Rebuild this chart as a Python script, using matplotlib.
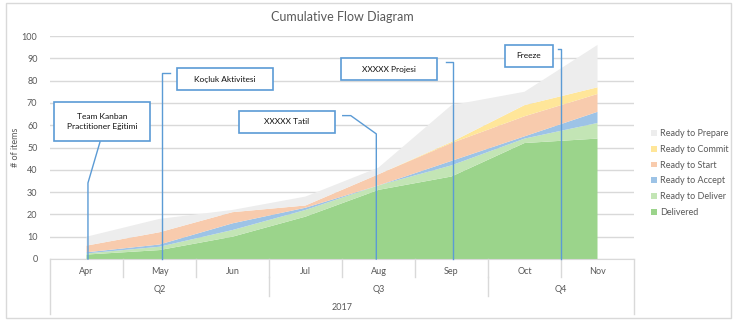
import numpy as np
import matplotlib.pyplot as plt
from matplotlib.patches import Rectangle, Patch

plt.rcParams['font.family'] = ['Lato', 'DejaVu Sans']

months = ["Apr", "May", "Jun", "Jul", "Aug", "Sep", "Oct", "Nov"]
quarters = ["Q2", "Q3", "Q4"]
quarter_spans = [(0, 3), (3, 6), (6, 8)]
year = "2017"

# items per state at each month end (stacked bottom to top)
delivered = [2, 4, 10, 19, 31, 37, 52, 54]
ready_to_deliver = [0.5, 1.5, 3, 3, 2, 5, 2, 7]
ready_to_accept = [0.5, 1, 3, 1, 0, 2, 1, 5]
ready_to_start = [3, 5.5, 5, 1, 5, 8, 9, 8]
ready_to_commit = [0, 0, 0, 0, 0, 0.5, 5, 3]
ready_to_prepare = [4, 6, 1, 4, 3, 16.5, 6, 19]

states = ["Delivered", "Ready to Deliver", "Ready to Accept",
          "Ready to Start", "Ready to Commit", "Ready to Prepare"]
colors = ["#9bd48b", "#c3e5b5", "#9dc3e6", "#f8cbad", "#ffe699", "#ededed"]

# callouts: text, box (x0, x1, y0, y1) and leader path in data units
events = [
    ("Team Kanban\nPractitioner Eğitimi", (0.055, 1.37, 52.9, 70.4),
     [(0.685, 52.5), (0.52, 34.1), (0.52, 0)]),
    ("Koçluk Aktivitesi", (1.74, 3.05, 75.8, 85.6),
     [(1.64, 83.4), (1.53, 83.4), (1.53, 0)]),
    ("XXXXX Tatil", (2.59, 3.90, 56.5, 66.4),
     [(4.01, 64.3), (4.12, 64.3), (4.47, 56.1), (4.47, 0)]),
    ("XXXXX Projesi", (3.99, 5.30, 80.3, 90.1),
     [(5.42, 88.3), (5.52, 88.3), (5.52, 0)]),
    ("Freeze", (6.23, 6.89, 86.1, 96.0),
     [(6.96, 94.2), (7.0, 94.2), (7.0, 0)]),
]

grey = "#595959"
line_grey = "#d9d9d9"
blue = "#5b9bd5"

fig = plt.figure(figsize=(7.34, 3.22), dpi=100)
ax = fig.add_axes([50 / 734, 1 - 259 / 322, 584 / 734, 223 / 322])

x = np.arange(len(months)) + 0.5
ax.stackplot(x, delivered, ready_to_deliver, ready_to_accept, ready_to_start,
             ready_to_commit, ready_to_prepare, colors=colors, lw=0, zorder=2)

ax.set_xlim(0, len(months))
ax.set_ylim(0, 100)
ax.set_yticks(range(0, 101, 10))
ax.set_xticks([])
ax.tick_params(axis='y', length=0, labelsize=6.5, labelcolor=grey, pad=9)
ax.grid(axis='y', color=line_grey, lw=1, zorder=0)
for s in ["top", "right", "left"]:
    ax.spines[s].set_visible(False)
ax.spines["bottom"].set_color(line_grey)
ax.set_ylabel("# of items", fontsize=6.5, color=grey)
ax.yaxis.set_label_coords(-30 / 584, 0.5)
ax.set_title("Cumulative Flow Diagram", fontsize=9, color=grey, pad=11)

# multi-level category axis
tr = ax.get_xaxis_transform()
def fy(py):
    return (259 - py) / 223

for i, m in enumerate(months):
    ax.text(i + 0.5, fy(271), m, transform=tr, ha='center', va='center',
            fontsize=6.5, color=grey)
for i in range(1, len(months)):
    ax.plot([i, i], [0, fy(277)], transform=tr, color=line_grey, lw=1, clip_on=False)
for q, (a, b) in zip(quarters, quarter_spans):
    ax.text((a + b) / 2, fy(289), q, transform=tr, ha='center', va='center',
            fontsize=6.5, color=grey)
for a, b in quarter_spans[1:]:
    ax.plot([a, a], [fy(277), fy(296)], transform=tr, color=line_grey, lw=1, clip_on=False)
ax.text(len(months) / 2, fy(307), year, transform=tr, ha='center', va='center',
        fontsize=6.5, color=grey)
for edge in (0, len(months)):
    ax.plot([edge, edge], [0, fy(314)], transform=tr, color=line_grey, lw=1, clip_on=False)

# event callouts
for label, (x0, x1, y0, y1), path in events:
    ax.add_patch(Rectangle((x0, y0), x1 - x0, y1 - y0, facecolor='white',
                           edgecolor=blue, lw=1.2, zorder=5))
    ax.text((x0 + x1) / 2, (y0 + y1) / 2, label, ha='center', va='center',
            fontsize=6, color='#111111', linespacing=1.6, zorder=6)
    px, py = zip(*path)
    ax.plot(px, py, color=blue, lw=1, zorder=4, clip_on=False)

handles = [Patch(facecolor=c, edgecolor='none') for c in colors][::-1]
fig.legend(handles, states[::-1], loc='upper left', bbox_to_anchor=(643 / 734, 1 - 121 / 322),
           frameon=False, fontsize=6.5, labelcolor=grey, handlelength=0.6,
           handleheight=0.6, handletextpad=0.4, labelspacing=0.75)

fig.patches.append(Rectangle((6 / 734, 1 - 318 / 322), 725 / 734, 315 / 322,
                             transform=fig.transFigure, fill=False,
                             edgecolor=line_grey, lw=1))

fig.savefig("out.png", dpi=100)
